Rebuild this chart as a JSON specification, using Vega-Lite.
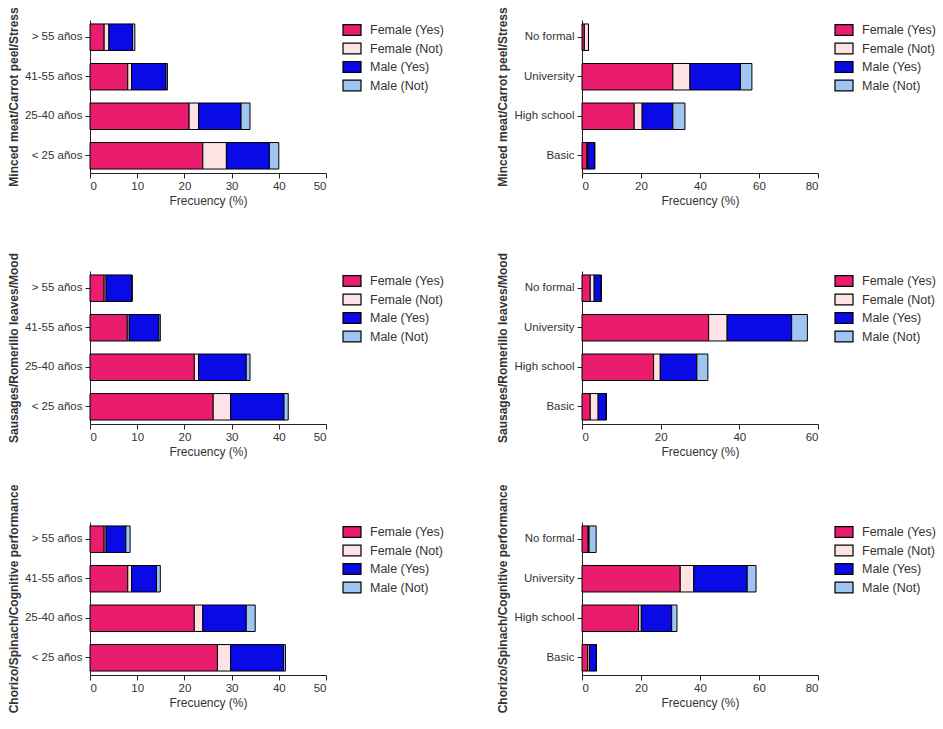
{
  "$schema": "https://vega.github.io/schema/vega-lite/v6.json",
  "padding": {"left": 7, "top": 6, "right": 5, "bottom": 5},
  "background": "white",
  "config": {
    "font": "Liberation Sans",
    "view": {"stroke": null},
    "axis": {
      "domainColor": "#222", "tickColor": "#222", "labelColor": "#333", "titleColor": "#333",
      "labelFontSize": 11.5, "titleFontSize": 12, "grid": false, "tickSize": 5
    },
    "legend": {
      "labelFontSize": 12.5, "labelColor": "#333", "offset": 16, "rowPadding": 0.5,
      "symbolType": "M-1,-0.6H1V0.6H-1Z", "symbolSize": 324, "symbolStrokeColor": "black", "symbolStrokeWidth": 1.2, "symbolOpacity": 1, "labelOffset": 8
    }
  },
  "data": {"values": [
    {"panel": "p1", "cat": "> 55 años", "group": "Female (Yes)", "o": 1, "v": 3.0},
    {"panel": "p1", "cat": "> 55 años", "group": "Female (Not)", "o": 2, "v": 1.0},
    {"panel": "p1", "cat": "> 55 años", "group": "Male (Yes)", "o": 3, "v": 5.0},
    {"panel": "p1", "cat": "> 55 años", "group": "Male (Not)", "o": 4, "v": 0.5},
    {"panel": "p1", "cat": "41-55 años", "group": "Female (Yes)", "o": 1, "v": 8.0},
    {"panel": "p1", "cat": "41-55 años", "group": "Female (Not)", "o": 2, "v": 0.8},
    {"panel": "p1", "cat": "41-55 años", "group": "Male (Yes)", "o": 3, "v": 7.3},
    {"panel": "p1", "cat": "41-55 años", "group": "Male (Not)", "o": 4, "v": 0.3},
    {"panel": "p1", "cat": "25-40 años", "group": "Female (Yes)", "o": 1, "v": 21.0},
    {"panel": "p1", "cat": "25-40 años", "group": "Female (Not)", "o": 2, "v": 2.0},
    {"panel": "p1", "cat": "25-40 años", "group": "Male (Yes)", "o": 3, "v": 9.0},
    {"panel": "p1", "cat": "25-40 años", "group": "Male (Not)", "o": 4, "v": 1.9},
    {"panel": "p1", "cat": "< 25 años", "group": "Female (Yes)", "o": 1, "v": 23.9},
    {"panel": "p1", "cat": "< 25 años", "group": "Female (Not)", "o": 2, "v": 5.0},
    {"panel": "p1", "cat": "< 25 años", "group": "Male (Yes)", "o": 3, "v": 9.1},
    {"panel": "p1", "cat": "< 25 años", "group": "Male (Not)", "o": 4, "v": 2.0},

    {"panel": "p2", "cat": "No formal", "group": "Female (Yes)", "o": 1, "v": 0.8},
    {"panel": "p2", "cat": "No formal", "group": "Female (Not)", "o": 2, "v": 1.4},
    {"panel": "p2", "cat": "No formal", "group": "Male (Yes)", "o": 3, "v": 0},
    {"panel": "p2", "cat": "No formal", "group": "Male (Not)", "o": 4, "v": 0},
    {"panel": "p2", "cat": "University", "group": "Female (Yes)", "o": 1, "v": 30.8},
    {"panel": "p2", "cat": "University", "group": "Female (Not)", "o": 2, "v": 5.8},
    {"panel": "p2", "cat": "University", "group": "Male (Yes)", "o": 3, "v": 17.1},
    {"panel": "p2", "cat": "University", "group": "Male (Not)", "o": 4, "v": 3.9},
    {"panel": "p2", "cat": "High school", "group": "Female (Yes)", "o": 1, "v": 17.7},
    {"panel": "p2", "cat": "High school", "group": "Female (Not)", "o": 2, "v": 2.7},
    {"panel": "p2", "cat": "High school", "group": "Male (Yes)", "o": 3, "v": 10.4},
    {"panel": "p2", "cat": "High school", "group": "Male (Not)", "o": 4, "v": 4.1},
    {"panel": "p2", "cat": "Basic", "group": "Female (Yes)", "o": 1, "v": 1.7},
    {"panel": "p2", "cat": "Basic", "group": "Female (Not)", "o": 2, "v": 0.3},
    {"panel": "p2", "cat": "Basic", "group": "Male (Yes)", "o": 3, "v": 2.3},
    {"panel": "p2", "cat": "Basic", "group": "Male (Not)", "o": 4, "v": 0},

    {"panel": "p3", "cat": "> 55 años", "group": "Female (Yes)", "o": 1, "v": 3.0},
    {"panel": "p3", "cat": "> 55 años", "group": "Female (Not)", "o": 2, "v": 0.4},
    {"panel": "p3", "cat": "> 55 años", "group": "Male (Yes)", "o": 3, "v": 5.5},
    {"panel": "p3", "cat": "> 55 años", "group": "Male (Not)", "o": 4, "v": 0},
    {"panel": "p3", "cat": "41-55 años", "group": "Female (Yes)", "o": 1, "v": 7.9},
    {"panel": "p3", "cat": "41-55 años", "group": "Female (Not)", "o": 2, "v": 0.4},
    {"panel": "p3", "cat": "41-55 años", "group": "Male (Yes)", "o": 3, "v": 6.3},
    {"panel": "p3", "cat": "41-55 años", "group": "Male (Not)", "o": 4, "v": 0.3},
    {"panel": "p3", "cat": "25-40 años", "group": "Female (Yes)", "o": 1, "v": 22.1},
    {"panel": "p3", "cat": "25-40 años", "group": "Female (Not)", "o": 2, "v": 0.9},
    {"panel": "p3", "cat": "25-40 años", "group": "Male (Yes)", "o": 3, "v": 10.1},
    {"panel": "p3", "cat": "25-40 años", "group": "Male (Not)", "o": 4, "v": 0.8},
    {"panel": "p3", "cat": "< 25 años", "group": "Female (Yes)", "o": 1, "v": 26.1},
    {"panel": "p3", "cat": "< 25 años", "group": "Female (Not)", "o": 2, "v": 3.7},
    {"panel": "p3", "cat": "< 25 años", "group": "Male (Yes)", "o": 3, "v": 11.3},
    {"panel": "p3", "cat": "< 25 años", "group": "Male (Not)", "o": 4, "v": 0.9},

    {"panel": "p4", "cat": "No formal", "group": "Female (Yes)", "o": 1, "v": 2.1},
    {"panel": "p4", "cat": "No formal", "group": "Female (Not)", "o": 2, "v": 1.0},
    {"panel": "p4", "cat": "No formal", "group": "Male (Yes)", "o": 3, "v": 1.8},
    {"panel": "p4", "cat": "No formal", "group": "Male (Not)", "o": 4, "v": 0},
    {"panel": "p4", "cat": "University", "group": "Female (Yes)", "o": 1, "v": 32.2},
    {"panel": "p4", "cat": "University", "group": "Female (Not)", "o": 2, "v": 4.7},
    {"panel": "p4", "cat": "University", "group": "Male (Yes)", "o": 3, "v": 16.4},
    {"panel": "p4", "cat": "University", "group": "Male (Not)", "o": 4, "v": 4.0},
    {"panel": "p4", "cat": "High school", "group": "Female (Yes)", "o": 1, "v": 18.2},
    {"panel": "p4", "cat": "High school", "group": "Female (Not)", "o": 2, "v": 1.7},
    {"panel": "p4", "cat": "High school", "group": "Male (Yes)", "o": 3, "v": 9.3},
    {"panel": "p4", "cat": "High school", "group": "Male (Not)", "o": 4, "v": 2.8},
    {"panel": "p4", "cat": "Basic", "group": "Female (Yes)", "o": 1, "v": 2.1},
    {"panel": "p4", "cat": "Basic", "group": "Female (Not)", "o": 2, "v": 2.0},
    {"panel": "p4", "cat": "Basic", "group": "Male (Yes)", "o": 3, "v": 2.1},
    {"panel": "p4", "cat": "Basic", "group": "Male (Not)", "o": 4, "v": 0},

    {"panel": "p5", "cat": "> 55 años", "group": "Female (Yes)", "o": 1, "v": 3.0},
    {"panel": "p5", "cat": "> 55 años", "group": "Female (Not)", "o": 2, "v": 0.4},
    {"panel": "p5", "cat": "> 55 años", "group": "Male (Yes)", "o": 3, "v": 4.2},
    {"panel": "p5", "cat": "> 55 años", "group": "Male (Not)", "o": 4, "v": 0.9},
    {"panel": "p5", "cat": "41-55 años", "group": "Female (Yes)", "o": 1, "v": 8.0},
    {"panel": "p5", "cat": "41-55 años", "group": "Female (Not)", "o": 2, "v": 0.8},
    {"panel": "p5", "cat": "41-55 años", "group": "Male (Yes)", "o": 3, "v": 5.3},
    {"panel": "p5", "cat": "41-55 años", "group": "Male (Not)", "o": 4, "v": 0.8},
    {"panel": "p5", "cat": "25-40 años", "group": "Female (Yes)", "o": 1, "v": 22.1},
    {"panel": "p5", "cat": "25-40 años", "group": "Female (Not)", "o": 2, "v": 1.8},
    {"panel": "p5", "cat": "25-40 años", "group": "Male (Yes)", "o": 3, "v": 9.2},
    {"panel": "p5", "cat": "25-40 años", "group": "Male (Not)", "o": 4, "v": 1.9},
    {"panel": "p5", "cat": "< 25 años", "group": "Female (Yes)", "o": 1, "v": 27.0},
    {"panel": "p5", "cat": "< 25 años", "group": "Female (Not)", "o": 2, "v": 2.8},
    {"panel": "p5", "cat": "< 25 años", "group": "Male (Yes)", "o": 3, "v": 11.2},
    {"panel": "p5", "cat": "< 25 años", "group": "Male (Not)", "o": 4, "v": 0.4},

    {"panel": "p6", "cat": "No formal", "group": "Female (Yes)", "o": 1, "v": 2.1},
    {"panel": "p6", "cat": "No formal", "group": "Female (Not)", "o": 2, "v": 0.3},
    {"panel": "p6", "cat": "No formal", "group": "Male (Yes)", "o": 3, "v": 0},
    {"panel": "p6", "cat": "No formal", "group": "Male (Not)", "o": 4, "v": 2.4},
    {"panel": "p6", "cat": "University", "group": "Female (Yes)", "o": 1, "v": 33.3},
    {"panel": "p6", "cat": "University", "group": "Female (Not)", "o": 2, "v": 4.6},
    {"panel": "p6", "cat": "University", "group": "Male (Yes)", "o": 3, "v": 18.1},
    {"panel": "p6", "cat": "University", "group": "Male (Not)", "o": 4, "v": 3.0},
    {"panel": "p6", "cat": "High school", "group": "Female (Yes)", "o": 1, "v": 19.2},
    {"panel": "p6", "cat": "High school", "group": "Female (Not)", "o": 2, "v": 0.9},
    {"panel": "p6", "cat": "High school", "group": "Male (Yes)", "o": 3, "v": 10.3},
    {"panel": "p6", "cat": "High school", "group": "Male (Not)", "o": 4, "v": 1.8},
    {"panel": "p6", "cat": "Basic", "group": "Female (Yes)", "o": 1, "v": 1.9},
    {"panel": "p6", "cat": "Basic", "group": "Female (Not)", "o": 2, "v": 0.6},
    {"panel": "p6", "cat": "Basic", "group": "Male (Yes)", "o": 3, "v": 2.4},
    {"panel": "p6", "cat": "Basic", "group": "Male (Not)", "o": 4, "v": 0}
  ]},
  "bounds": "flush",
  "columns": 2,
  "spacing": {"row": 98, "column": 256},
  "resolve": {"scale": {"color": "independent"}, "legend": {"color": "independent"}},
  "concat": [
    {
      "width": 236, "height": 153,
      "transform": [{"filter": "datum.panel === 'p1'"}],
      "mark": {"type": "bar", "stroke": "black", "strokeWidth": 1},
      "encoding": {
        "y": {"field": "cat", "type": "nominal", "sort": ["> 55 años", "41-55 años", "25-40 años", "< 25 años"], "scale": {"paddingInner": 0.33, "paddingOuter": 0.1}, "axis": {"title": "Minced meat/Carrot peel/Stress", "titleFontWeight": "bold", "labelPadding": 3}},
        "x": {"field": "v", "type": "quantitative", "stack": "zero", "scale": {"domain": [0, 50], "nice": false}, "axis": {"values": [0, 10, 20, 30, 40, 50], "title": "Frecuency (%)", "titleFontWeight": "normal"}},
        "color": {"field": "group", "type": "nominal", "scale": {"domain": ["Female (Yes)", "Female (Not)", "Male (Yes)", "Male (Not)"], "range": ["#EA1C6E", "#FDE3E4", "#0A0AE6", "#9FC6F2"]}, "legend": {"title": null}},
        "order": {"field": "o", "type": "quantitative"}
      }
    },
    {
      "width": 236, "height": 153,
      "transform": [{"filter": "datum.panel === 'p2'"}],
      "mark": {"type": "bar", "stroke": "black", "strokeWidth": 1},
      "encoding": {
        "y": {"field": "cat", "type": "nominal", "sort": ["No formal", "University", "High school", "Basic"], "scale": {"paddingInner": 0.33, "paddingOuter": 0.1}, "axis": {"title": "Minced meat/Carrot peel/Stress", "titleFontWeight": "bold", "labelPadding": 3}},
        "x": {"field": "v", "type": "quantitative", "stack": "zero", "scale": {"domain": [0, 80], "nice": false}, "axis": {"values": [0, 20, 40, 60, 80], "title": "Frecuency (%)", "titleFontWeight": "normal"}},
        "color": {"field": "group", "type": "nominal", "scale": {"domain": ["Female (Yes)", "Female (Not)", "Male (Yes)", "Male (Not)"], "range": ["#EA1C6E", "#FDE3E4", "#0A0AE6", "#9FC6F2"]}, "legend": {"title": null}},
        "order": {"field": "o", "type": "quantitative"}
      }
    },
    {
      "width": 236, "height": 153,
      "transform": [{"filter": "datum.panel === 'p3'"}],
      "mark": {"type": "bar", "stroke": "black", "strokeWidth": 1},
      "encoding": {
        "y": {"field": "cat", "type": "nominal", "sort": ["> 55 años", "41-55 años", "25-40 años", "< 25 años"], "scale": {"paddingInner": 0.33, "paddingOuter": 0.1}, "axis": {"title": "Sausages/Romerillo leaves/Mood", "titleFontWeight": "bold", "labelPadding": 3}},
        "x": {"field": "v", "type": "quantitative", "stack": "zero", "scale": {"domain": [0, 50], "nice": false}, "axis": {"values": [0, 10, 20, 30, 40, 50], "title": "Frecuency (%)", "titleFontWeight": "normal"}},
        "color": {"field": "group", "type": "nominal", "scale": {"domain": ["Female (Yes)", "Female (Not)", "Male (Yes)", "Male (Not)"], "range": ["#EA1C6E", "#FDE3E4", "#0A0AE6", "#9FC6F2"]}, "legend": {"title": null}},
        "order": {"field": "o", "type": "quantitative"}
      }
    },
    {
      "width": 236, "height": 153,
      "transform": [{"filter": "datum.panel === 'p4'"}],
      "mark": {"type": "bar", "stroke": "black", "strokeWidth": 1},
      "encoding": {
        "y": {"field": "cat", "type": "nominal", "sort": ["No formal", "University", "High school", "Basic"], "scale": {"paddingInner": 0.33, "paddingOuter": 0.1}, "axis": {"title": "Sausages/Romerillo leaves/Mood", "titleFontWeight": "bold", "labelPadding": 3}},
        "x": {"field": "v", "type": "quantitative", "stack": "zero", "scale": {"domain": [0, 60], "nice": false}, "axis": {"values": [0, 20, 40, 60], "title": "Frecuency (%)", "titleFontWeight": "normal"}},
        "color": {"field": "group", "type": "nominal", "scale": {"domain": ["Female (Yes)", "Female (Not)", "Male (Yes)", "Male (Not)"], "range": ["#EA1C6E", "#FDE3E4", "#0A0AE6", "#9FC6F2"]}, "legend": {"title": null}},
        "order": {"field": "o", "type": "quantitative"}
      }
    },
    {
      "width": 236, "height": 153,
      "transform": [{"filter": "datum.panel === 'p5'"}],
      "mark": {"type": "bar", "stroke": "black", "strokeWidth": 1},
      "encoding": {
        "y": {"field": "cat", "type": "nominal", "sort": ["> 55 años", "41-55 años", "25-40 años", "< 25 años"], "scale": {"paddingInner": 0.33, "paddingOuter": 0.1}, "axis": {"title": "Chorizo/Spinach/Cognitive performance", "titleFontWeight": "bold", "labelPadding": 3}},
        "x": {"field": "v", "type": "quantitative", "stack": "zero", "scale": {"domain": [0, 50], "nice": false}, "axis": {"values": [0, 10, 20, 30, 40, 50], "title": "Frecuency (%)", "titleFontWeight": "normal"}},
        "color": {"field": "group", "type": "nominal", "scale": {"domain": ["Female (Yes)", "Female (Not)", "Male (Yes)", "Male (Not)"], "range": ["#EA1C6E", "#FDE3E4", "#0A0AE6", "#9FC6F2"]}, "legend": {"title": null}},
        "order": {"field": "o", "type": "quantitative"}
      }
    },
    {
      "width": 236, "height": 153,
      "transform": [{"filter": "datum.panel === 'p6'"}],
      "mark": {"type": "bar", "stroke": "black", "strokeWidth": 1},
      "encoding": {
        "y": {"field": "cat", "type": "nominal", "sort": ["No formal", "University", "High school", "Basic"], "scale": {"paddingInner": 0.33, "paddingOuter": 0.1}, "axis": {"title": "Chorizo/Spinach/Cognitive performance", "titleFontWeight": "bold", "labelPadding": 3}},
        "x": {"field": "v", "type": "quantitative", "stack": "zero", "scale": {"domain": [0, 80], "nice": false}, "axis": {"values": [0, 20, 40, 60, 80], "title": "Frecuency (%)", "titleFontWeight": "normal"}},
        "color": {"field": "group", "type": "nominal", "scale": {"domain": ["Female (Yes)", "Female (Not)", "Male (Yes)", "Male (Not)"], "range": ["#EA1C6E", "#FDE3E4", "#0A0AE6", "#9FC6F2"]}, "legend": {"title": null}},
        "order": {"field": "o", "type": "quantitative"}
      }
    }
  ]
}
